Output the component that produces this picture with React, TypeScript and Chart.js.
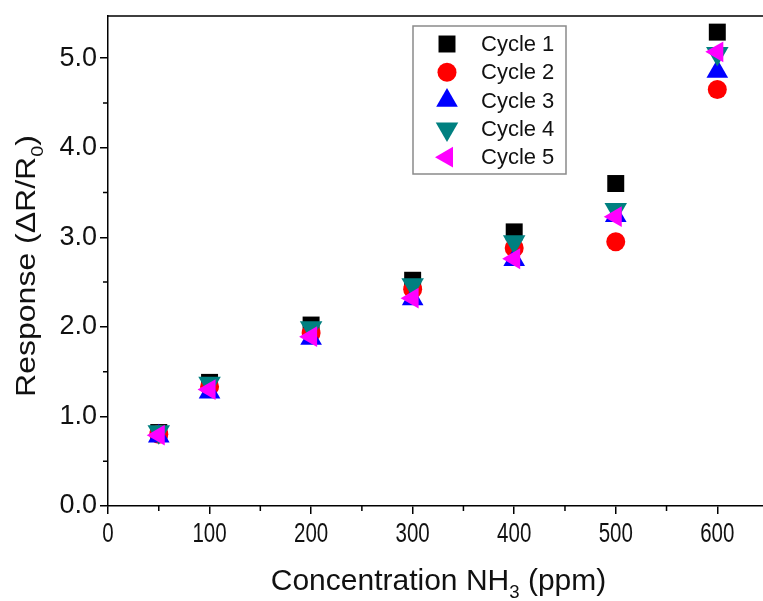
import React, { useEffect, useRef } from "react";
import { Chart, registerables } from "chart.js";

Chart.register(...registerables);

const concentrations = [50, 100, 200, 300, 400, 500, 600];
const cycle1 = [0.82, 1.38, 2.02, 2.52, 3.06, 3.6, 5.29];
const cycle2 = [0.8, 1.33, 1.93, 2.42, 2.88, 2.95, 4.65];
const cycle3 = [0.78, 1.27, 1.87, 2.31, 2.75, 3.24, 4.85];
const cycle4 = [0.83, 1.37, 1.99, 2.47, 2.95, 3.31, 5.05];
const cycle5 = [0.79, 1.3, 1.89, 2.32, 2.76, 3.23, 5.07];

const seriesNames = ["Cycle 1", "Cycle 2", "Cycle 3", "Cycle 4", "Cycle 5"];
const xMajorTicks = [0, 100, 200, 300, 400, 500, 600];
const xMinorTicks = [50, 150, 250, 350, 450, 550];
const yMajorTicks = [0, 1, 2, 3, 4, 5];
const yMinorTicks = [0.5, 1.5, 2.5, 3.5, 4.5];

const FONT = "'Liberation Sans', Arial, sans-serif";

const styles = [
  { color: "#000000", pointStyle: "rect", radius: 12, rotation: 0 },
  { color: "#ff0000", pointStyle: "circle", radius: 9.5, rotation: 0 },
  { color: "#0000ff", pointStyle: "triangle", radius: 12.5, rotation: 0 },
  { color: "#008080", pointStyle: "triangle", radius: 13, rotation: 180 },
  { color: "#ff00ff", pointStyle: "triangle", radius: 12, rotation: -90 },
];

const seriesValues = [cycle1, cycle2, cycle3, cycle4, cycle5];

function drawSubText(
  ctx: CanvasRenderingContext2D,
  parts: { t: string; sub?: boolean }[],
  size: number,
  cx: number,
  baseY: number
) {
  const subSize = size * 0.62;
  let total = 0;
  const widths = parts.map((p) => {
    ctx.font = `${p.sub ? subSize : size}px ${FONT}`;
    const w = ctx.measureText(p.t).width;
    total += w;
    return w;
  });
  let x = cx - total / 2;
  parts.forEach((p, i) => {
    ctx.font = `${p.sub ? subSize : size}px ${FONT}`;
    ctx.fillText(p.t, x, baseY + (p.sub ? size * 0.28 : 0));
    x += widths[i];
  });
}

function drawMarker(ctx: CanvasRenderingContext2D, s: any, x: number, y: number) {
  const r = s.radius;
  ctx.beginPath();
  if (s.pointStyle === "rect") {
    const h = Math.SQRT1_2 * r;
    ctx.rect(x - h, y - h, 2 * h, 2 * h);
  } else if (s.pointStyle === "circle") {
    ctx.arc(x, y, r, 0, Math.PI * 2);
  } else {
    let rad = (s.rotation * Math.PI) / 180;
    ctx.moveTo(x + Math.sin(rad) * r, y - Math.cos(rad) * r);
    rad += (2 * Math.PI) / 3;
    ctx.lineTo(x + Math.sin(rad) * r, y - Math.cos(rad) * r);
    rad += (2 * Math.PI) / 3;
    ctx.lineTo(x + Math.sin(rad) * r, y - Math.cos(rad) * r);
    ctx.closePath();
  }
  ctx.fill();
}

const decorPlugin = {
  id: "decor",
  afterDraw(chart: any) {
    const { ctx, chartArea } = chart;
    const xs = chart.scales.x;
    const ys = chart.scales.y;
    ctx.save();
    ctx.strokeStyle = "#000";
    ctx.lineWidth = 1.5;
    ctx.beginPath();
    xMinorTicks.forEach((v) => {
      const px = xs.getPixelForValue(v);
      ctx.moveTo(px, chartArea.bottom);
      ctx.lineTo(px, chartArea.bottom + 5);
    });
    yMinorTicks.forEach((v) => {
      const py = ys.getPixelForValue(v);
      ctx.moveTo(chartArea.left, py);
      ctx.lineTo(chartArea.left - 5, py);
    });
    ctx.moveTo(chartArea.left, chartArea.top);
    ctx.lineTo(chartArea.right, chartArea.top);
    ctx.stroke();

    // x tick labels (condensed)
    ctx.fillStyle = "#111";
    ctx.textBaseline = "alphabetic";
    ctx.textAlign = "center";
    ctx.font = `27px ${FONT}`;
    xMajorTicks.forEach((v) => {
      const px = xs.getPixelForValue(v);
      ctx.save();
      ctx.translate(px, 542);
      ctx.scale(0.76, 1);
      ctx.fillText(String(v), 0, 0);
      ctx.restore();
    });

    // axis titles
    ctx.textAlign = "left";
    drawSubText(
      ctx,
      [{ t: "Concentration NH" }, { t: "3", sub: true }, { t: " (ppm)" }],
      30,
      (chartArea.left + chartArea.right) / 2 + 3,
      590
    );
    ctx.save();
    ctx.translate(35, 266);
    ctx.rotate(-Math.PI / 2);
    ctx.scale(1, 0.85);
    drawSubText(
      ctx,
      [{ t: "Response (\u0394R/R" }, { t: "0", sub: true }, { t: ")" }],
      32,
      0,
      0
    );
    ctx.restore();

    // legend
    const bx = 413,
      by = 26,
      bw = 153,
      bh = 148;
    ctx.strokeStyle = "#8a8a8a";
    ctx.lineWidth = 1.5;
    ctx.strokeRect(bx, by, bw, bh);
    seriesNames.forEach((name, i) => {
      const cy = 44 + i * 28.3;
      const s = styles[i];
      ctx.fillStyle = s.color;
      drawMarker(ctx, s, 447, cy);
      ctx.fillStyle = "#111";
      ctx.font = `22px ${FONT}`;
      ctx.textBaseline = "middle";
      ctx.fillText(name, 481, cy + 1);
    });
    ctx.restore();
  },
};

export default function App() {
  const ref = useRef<HTMLCanvasElement | null>(null);
  useEffect(() => {
    if (!ref.current) return;
    const datasets = seriesNames.map((name, i) => ({
      label: name,
      data: concentrations.map((c, j) => ({ x: c, y: seriesValues[i][j] })),
      showLine: false,
      pointStyle: styles[i].pointStyle,
      pointRadius: styles[i].radius,
      pointRotation: styles[i].rotation,
      pointBackgroundColor: styles[i].color,
      pointBorderColor: styles[i].color,
      pointBorderWidth: 0,
      order: 5 - i,
    }));
    const chart = new Chart(ref.current, {
      type: "scatter",
      data: { datasets },
      plugins: [decorPlugin],
      options: {
        animation: false,
        responsive: false,
        layout: { autoPadding: false, padding: { top: 16, right: 0, left: 0, bottom: 0 } },
        plugins: { legend: { display: false }, tooltip: { enabled: false } },
        scales: {
          x: {
            type: "linear",
            min: 0,
            max: 645,
            afterBuildTicks: (scale: any) => {
              scale.ticks = xMajorTicks.map((v) => ({ value: v }));
            },
            afterFit: (scale: any) => {
              scale.height = 95;
              scale.paddingLeft = 0;
              scale.paddingRight = 0;
            },
            grid: {
              display: true,
              drawOnChartArea: false,
              drawTicks: true,
              tickLength: 8,
              color: "#000",
              lineWidth: 1.5,
            },
            border: { display: true, color: "#000", width: 1.5 },
            ticks: { display: false },
          },
          y: {
            type: "linear",
            min: 0,
            max: 5.47,
            afterBuildTicks: (scale: any) => {
              scale.ticks = yMajorTicks.map((v) => ({ value: v }));
            },
            afterFit: (scale: any) => {
              scale.width = 108;
              scale.paddingTop = 0;
              scale.paddingBottom = 0;
            },
            grid: {
              display: true,
              drawOnChartArea: false,
              drawTicks: true,
              tickLength: 8,
              color: "#000",
              lineWidth: 1.5,
            },
            border: { display: true, color: "#000", width: 1.5 },
            ticks: {
              color: "#111",
              padding: 3,
              font: { family: FONT, size: 27 },
              callback: (v: any) => Number(v).toFixed(1),
            },
          },
        },
      },
    } as any);
    return () => chart.destroy();
  }, []);
  return (
    <div style={{ position: "absolute", left: 0, top: 0, width: 763, height: 601, background: "#fff" }}>
      <canvas ref={ref} width={763} height={601} style={{ width: 763, height: 601 }} />
    </div>
  );
}
